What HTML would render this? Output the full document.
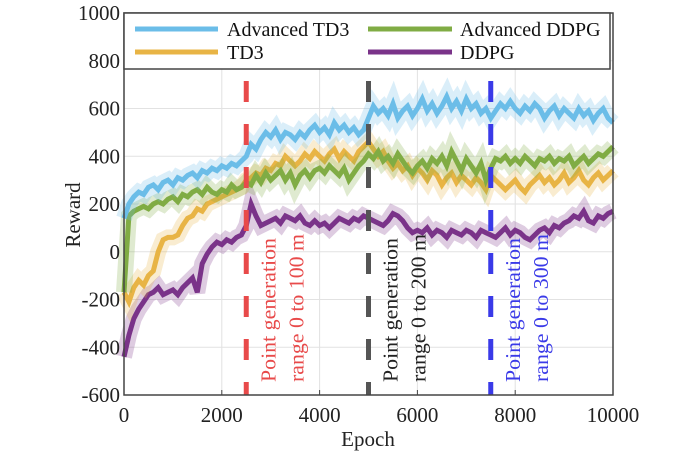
<!DOCTYPE html>
<html><head><meta charset="utf-8">
<style>
html,body{margin:0;padding:0;background:#fff;}
svg, svg text{font-family:"Liberation Serif","Times New Roman",serif;}
</style></head>
<body>
<svg id="chart" width="692" height="458" viewBox="0 0 692 458" xmlns="http://www.w3.org/2000/svg" font-family="Liberation Serif, serif">
<g id="grid"></g>
<g id="series"></g>
<g id="vlines"></g>
<g id="axes"></g>
<text transform="translate(80,215) rotate(-90)" text-anchor="middle" font-size="21" fill="#222">Reward</text>
<text x="368" y="446" text-anchor="middle" font-size="21" fill="#222">Epoch</text>
<g>
<rect x="124" y="13" width="486" height="56" fill="#fff" stroke="#444" stroke-width="1.5"/>
<g><line x1="135" y1="29" x2="218" y2="29" stroke="#6bbde8" stroke-width="5"/><text x="227" y="36" font-size="20" fill="#111">Advanced TD3</text></g>
<g><line x1="135" y1="52" x2="218" y2="52" stroke="#e8b445" stroke-width="5"/><text x="227" y="59" font-size="20" fill="#111">TD3</text></g>
<g><line x1="368" y1="29" x2="452" y2="29" stroke="#80ac44" stroke-width="5"/><text x="460" y="36" font-size="20" fill="#111">Advanced DDPG</text></g>
<g><line x1="368" y1="52" x2="452" y2="52" stroke="#7a3389" stroke-width="5"/><text x="460" y="59" font-size="20" fill="#111">DDPG</text></g>
</g>
</svg>
<script>
const xTicks=[0,2000,4000,6000,8000,10000];
const yTicks=[-600,-400,-200,0,200,400,600,800,1000];
const markerEpochs=[2500,5000,7500];
const markerColors=["#e84a4a","#555555","#3a3ae8"];
const markerLabels=["range 0 to 100 m","range 0 to 200 m","range 0 to 300 m"];
const advTD3=[140,200,230,250,240,270,280,260,290,300,280,310,300,320,330,310,340,330,350,340,360,350,370,360,380,400,450,430,470,500,480,510,470,500,490,470,500,480,510,530,500,520,490,540,510,530,500,520,490,510,560,610,580,600,570,620,560,590,610,570,600,640,590,620,580,610,650,600,630,590,640,600,620,580,600,560,590,620,600,630,600,580,610,590,620,600,560,590,610,570,600,580,560,600,570,590,550,580,600,560,540];
const td3=[-170,-210,-150,-120,-140,-100,-80,0,50,60,60,70,110,140,150,180,170,200,210,220,230,240,250,260,270,300,310,330,320,350,340,370,360,400,380,360,380,410,390,420,400,380,410,430,390,420,400,380,420,440,460,430,400,420,380,350,370,340,360,320,350,330,300,340,320,280,310,330,290,320,300,280,310,290,260,320,300,280,260,280,300,270,250,280,300,320,290,310,280,300,330,290,310,340,300,280,310,330,300,320,340];
const advDDPG=[-170,150,170,180,190,180,200,210,200,220,230,210,240,230,250,260,240,270,250,240,260,250,280,260,270,290,280,320,290,330,300,320,340,300,330,280,320,340,310,340,350,330,360,340,320,350,300,330,360,380,410,390,420,380,400,370,410,380,350,330,360,380,350,390,370,400,360,420,380,340,390,360,330,370,300,350,390,380,400,370,390,370,400,380,360,390,380,400,370,390,380,400,360,380,400,370,390,410,400,420,440];
const ddpg=[-440,-350,-280,-240,-210,-180,-170,-150,-180,-170,-160,-180,-150,-130,-110,-170,-50,-10,20,40,30,50,40,60,70,110,200,150,110,120,130,140,120,150,140,130,150,120,110,130,110,120,100,120,140,130,120,140,130,150,140,130,120,110,130,160,150,130,100,80,90,80,100,70,90,80,60,90,80,70,90,80,60,90,80,70,60,80,100,70,90,80,60,50,70,90,100,80,110,100,120,130,150,140,170,130,120,150,140,160,170];
const epochStep=100;

const X0=124,X1=613,Y0=395,Y1=13;
const xs=v=>X0+(v-0)/10000*(X1-X0);
const ys=v=>Y0-(v+600)/1600*(Y0-Y1);
const NS="http://www.w3.org/2000/svg";
function mk(tag,attrs,parent){const e=document.createElementNS(NS,tag);for(const k in attrs)e.setAttribute(k,attrs[k]);parent.appendChild(e);return e;}
const grid=document.getElementById('grid'),axes=document.getElementById('axes'),ser=document.getElementById('series'),vl=document.getElementById('vlines');
xTicks.forEach(t=>{
  const g=mk('line',{x1:xs(t),x2:xs(t),y1:Y1,y2:Y0,stroke:'#e2e2e2','stroke-width':1},grid);
  
  
  const tk=mk('line',{x1:xs(t),x2:xs(t),y1:Y0,y2:Y0-5,stroke:'#444','stroke-width':1},axes);
  
  
  const l=mk('text',{x:xs(t),y:Y0+27,'text-anchor':'middle','font-size':21,fill:'#222'},axes);
  l.textContent=t;
  
  
});
yTicks.forEach(t=>{
  const g=mk('line',{x1:X0,x2:X1,y1:ys(t),y2:ys(t),stroke:'#e2e2e2','stroke-width':1},grid);
  
  
  const l=mk('text',{x:X0-4,y:ys(t)+7,'text-anchor':'end','font-size':21,fill:'#222'},axes);
  l.textContent=t;
  
  
});
const fr=mk('rect',{x:X0,y:Y1,width:X1-X0,height:Y0-Y1,fill:'none',stroke:'#444','stroke-width':1.5},axes);



const seriesList=[[ddpg,'#7a3389','ddpg'],[td3,'#e8b445','td3'],[advDDPG,'#80ac44','advanced-ddpg'],[advTD3,'#6bbde8','advanced-td3']];
seriesList.forEach(([arr,col,name])=>{
  const d=arr.map((v,i)=>(i?'L':'M')+xs(i*epochStep).toFixed(1)+','+ys(v).toFixed(1)).join('');
  const band=mk('path',{d:d,fill:'none',stroke:col,'stroke-width':16,'stroke-opacity':0.25,'stroke-linejoin':'miter'},ser);
  
  
  const p=mk('path',{d:d,fill:'none',stroke:col,'stroke-width':5,'stroke-linejoin':'miter'},ser);
  
  
});
markerEpochs.forEach((e,i)=>{
  const x=xs(e);
  const l=mk('line',{x1:x,x2:x,y1:Y0,y2:76,stroke:markerColors[i],'stroke-width':5,'stroke-dasharray':'21 22','stroke-dashoffset':8},vl);
  
  
  const c=markerColors[i]==='#555555'?'#222':markerColors[i];
  const t1=mk('text',{transform:`translate(${x+29},382) rotate(-90)`,'font-size':21,fill:c,textLength:144,lengthAdjust:'spacingAndGlyphs'},vl);
  t1.textContent='Point generation';
  
  
  const t2=mk('text',{transform:`translate(${x+57},382) rotate(-90)`,'font-size':21,fill:c,textLength:148,lengthAdjust:'spacingAndGlyphs'},vl);
  t2.textContent=markerLabels[i];
  
  
});
</script>
</body></html>
